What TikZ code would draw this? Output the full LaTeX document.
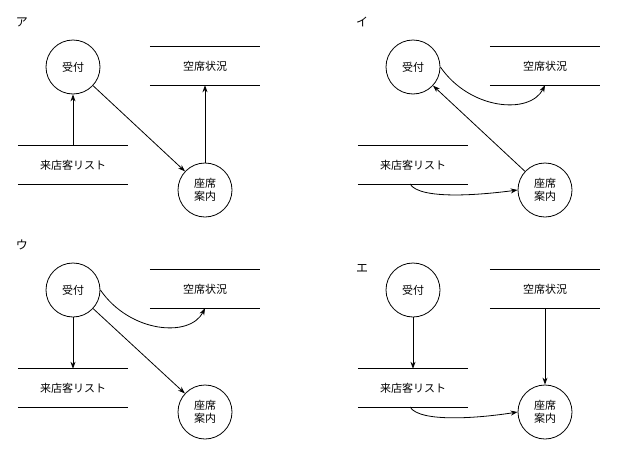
\documentclass[tikz,border=0pt]{standalone}
\usepackage{fontspec}
\newfontfamily\jp{Noto Sans CJK JP}
\usetikzlibrary{arrows.meta}
\begin{document}
\begin{tikzpicture}[x=1pt,y=-1pt,
  proc/.style={circle,draw,thick,minimum size=54pt,inner sep=0pt,align=center,font=\jp\fontsize{11}{13}\selectfont},
  store/.style={minimum width=110pt,minimum height=38pt,inner sep=0pt,font=\jp\fontsize{11}{13}\selectfont,
    append after command={\pgfextra{}(\tikzlastnode.north west) edge[thick,-] (\tikzlastnode.north east)
      (\tikzlastnode.south west) edge[thick,-] (\tikzlastnode.south east)}},
  flow/.style={thick,-{Stealth[length=7pt,width=5pt]}},
  lbl/.style={font=\jp\fontsize{12}{14}\selectfont}]
\useasboundingbox (0,0) rectangle (640,458);
% ア
\node[lbl] (la) at (22,22) {ア};
\node[proc] (a1) at (73,67) {受付};
\node[store] (a2) at (205,66) {空席状況};
\node[store] (a3) at (73,165) {来店客リスト};
\node[proc] (a4) at (205,190) {座席\\案内};
\draw[flow] (a3.north) -- (a1);
\draw[flow] (a1) -- (a4);
\draw[flow] (a4) -- (a2.south);
% イ
\node[lbl] (lb) at (362,22) {イ};
\node[proc] (b1) at (413,67) {受付};
\node[store] (b2) at (545,66) {空席状況};
\node[store] (b3) at (413,165) {来店客リスト};
\node[proc] (b4) at (545,190) {座席\\案内};
\draw[flow] (b4) -- (b1);
\draw[flow] (b1.east) .. controls (470,110) and (530,115) .. (b2.south);
\draw[flow] (410,184) .. controls (420,200) and (480,195) .. (b4.west);
% ウ
\node[lbl] (lc) at (22,245) {ウ};
\node[proc] (c1) at (73,290) {受付};
\node[store] (c2) at (205,289) {空席状況};
\node[store] (c3) at (73,388) {来店客リスト};
\node[proc] (c4) at (205,412) {座席\\案内};
\draw[flow] (c1) -- (c3.north);
\draw[flow] (c1) -- (c4);
\draw[flow] (c1.east) .. controls (130,333) and (190,338) .. (c2.south);
% エ
\node[lbl] (ld) at (362,268) {エ};
\node[proc] (d1) at (413,290) {受付};
\node[store] (d2) at (545,289) {空席状況};
\node[store] (d3) at (413,388) {来店客リスト};
\node[proc] (d4) at (545,412) {座席\\案内};
\draw[flow] (d1) -- (d3.north);
\draw[flow] (d2.south) -- (d4);
\draw[flow] (410,407) .. controls (420,423) and (480,418) .. (d4.west);
\end{tikzpicture}
\end{document}
